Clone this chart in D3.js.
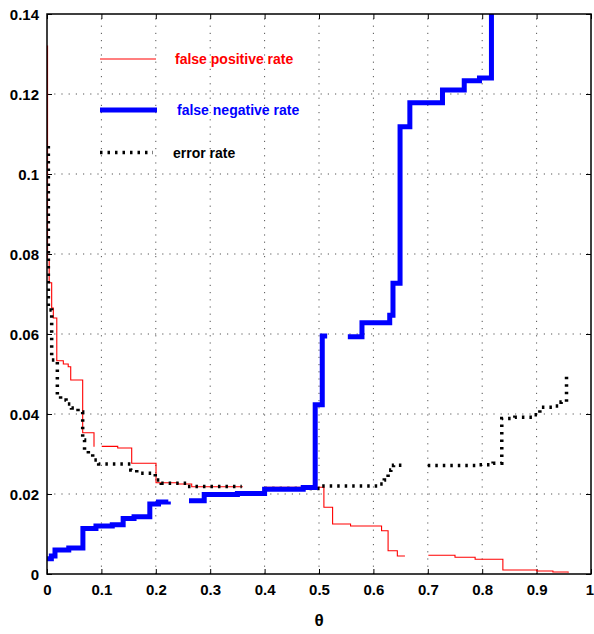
<!DOCTYPE html>
<html>
<head>
<meta charset="utf-8">
<script src="https://cdn.jsdelivr.net/npm/d3@7"></script>
<style>
  html, body { margin: 0; padding: 0; background: #fff; }
  svg text { font-family: "Liberation Sans", Arial, Helvetica, sans-serif; }
</style>
</head>
<body>
<svg id="chart" width="594" height="634"></svg>
<script>
// ---------------- data ----------------
const xTickValues = [0, 0.1, 0.2, 0.3, 0.4, 0.5, 0.6, 0.7, 0.8, 0.9, 1];
const xTickLabels = ["0", "0.1", "0.2", "0.3", "0.4", "0.5", "0.6", "0.7", "0.8", "0.9", "1"];
const yTickValues = [0, 0.02, 0.04, 0.06, 0.08, 0.1, 0.12, 0.14];
const yTickLabels = ["0", "0.02", "0.04", "0.06", "0.08", "0.1", "0.12", "0.14"];
const xLabel = "θ";
const seriesNames = ["false positive rate", "false negative rate", "error rate"];

// step points [theta, rate]; null = gap
const falsePositive = [
  [0, 0.132], [0.001, 0.0785], [0.004, 0.0728], [0.0086, 0.0665], [0.0116, 0.064],
  [0.018, 0.0533], [0.030, 0.0525], [0.039, 0.0518], [0.0436, 0.0485], [0.0656, 0.0353],
  [0.0864, 0.0318],
  null,
  [0.1006, 0.0319], [0.13, 0.0315], [0.1557, 0.0277], [0.2004, 0.0228], [0.241, 0.0225],
  [0.266, 0.0218], [0.36, 0.0218],
  null,
  [0.40, 0.0217], [0.509, 0.0167], [0.525, 0.0125], [0.558, 0.012], [0.615, 0.0108],
  [0.627, 0.0058], [0.644, 0.0045], [0.658, 0.0045],
  null,
  [0.701, 0.0047], [0.75, 0.0042], [0.787, 0.0037], [0.838, 0.001], [0.9, 0.00075],
  [0.93, 0.0005], [0.958, 0.0003]
];

const falseNegative = [
  [0, 0.0038], [0.008, 0.0045], [0.0147, 0.006], [0.04, 0.0065], [0.066, 0.0114],
  [0.09, 0.012], [0.12, 0.0123], [0.140, 0.0139], [0.16, 0.0143], [0.189, 0.0175],
  [0.205, 0.018], [0.223, 0.0181],
  null,
  [0.261, 0.0183], [0.289, 0.0199], [0.35, 0.0201], [0.40, 0.0212], [0.471, 0.0216],
  [0.493, 0.0423], [0.506, 0.0595], [0.515, 0.0595],
  null,
  [0.553, 0.0593], [0.579, 0.0628], [0.630, 0.0647], [0.636, 0.0727], [0.649, 0.1118],
  [0.667, 0.1178], [0.727, 0.121], [0.767, 0.1233], [0.795, 0.124], [0.817, 0.15]
];

const errorRate = [
  [0.0025, 0.107], [0.0025, 0.066], [0.0086, 0.0535], [0.019, 0.0448], [0.025, 0.0435],
  [0.035, 0.0425], [0.045, 0.0415], [0.057, 0.0405], [0.0656, 0.0335], [0.069, 0.031],
  [0.076, 0.030], [0.084, 0.0285], [0.095, 0.0275], [0.154, 0.026], [0.165, 0.0252],
  [0.199, 0.0235], [0.21, 0.0227], [0.257, 0.0219], [0.358, 0.0219],
  null,
  [0.40, 0.0214], [0.502, 0.022], [0.612, 0.0225], [0.62, 0.0235], [0.627, 0.025],
  [0.632, 0.026], [0.637, 0.0272], [0.658, 0.0272],
  null,
  [0.70, 0.0271], [0.79, 0.0273], [0.82, 0.0277], [0.836, 0.0389], [0.86, 0.0392],
  [0.894, 0.0398], [0.906, 0.0417], [0.934, 0.042], [0.945, 0.043], [0.955, 0.0439],
  [0.955, 0.0498]
];

// ---------------- layout ----------------
const svg = d3.select("#chart");
const m = { left: 47, top: 14, right: 3, bottom: 60 };
const W = 594, H = 634;
const x = d3.scaleLinear().domain([0, 1]).range([m.left, W - m.right]);
const y = d3.scaleLinear().domain([0, 0.14]).range([H - m.bottom, m.top]);

svg.append("defs").append("clipPath").attr("id", "clip")
  .append("rect")
  .attr("x", x(0)).attr("y", y(0.14))
  .attr("width", x(1) - x(0)).attr("height", y(0) - y(0.14));

// grid
const grid = svg.append("g");
grid.selectAll("line.gx").data(xTickValues.slice(1, -1)).join("line")
  .attr("x1", d => x(d)).attr("x2", d => x(d))
  .attr("y1", y(0)).attr("y2", y(0.14))
  .attr("stroke", "#555").attr("stroke-width", 1)
  .attr("stroke-dasharray", "1.2,6");
grid.selectAll("line.gy").data(yTickValues.slice(1, -1)).join("line")
  .attr("y1", d => y(d)).attr("y2", d => y(d))
  .attr("x1", x(0)).attr("x2", x(1))
  .attr("stroke", "#555").attr("stroke-width", 1)
  .attr("stroke-dasharray", "1.2,6");

// axes (ticks inward)
const tickFont = g => g.selectAll("text")
  .attr("font-size", 15).attr("font-weight", "bold").attr("fill", "#000");

svg.append("g").attr("transform", `translate(0,${y(0)})`)
  .call(d3.axisBottom(x).tickValues(xTickValues).tickFormat((d, i) => xTickLabels[i])
    .tickSizeInner(-5).tickSizeOuter(0).tickPadding(10))
  .call(g => g.select(".domain").remove())
  .call(tickFont)
  .call(g => g.selectAll("text").filter(d => d === 1).attr("dx", "-1.5"));

svg.append("g").attr("transform", `translate(${x(0)},0)`)
  .call(d3.axisLeft(y).tickValues(yTickValues).tickFormat((d, i) => yTickLabels[i])
    .tickSizeInner(-5).tickSizeOuter(0).tickPadding(8))
  .call(g => g.select(".domain").remove())
  .call(tickFont)
  .call(g => g.selectAll("text").attr("dy", "0.36em"));

svg.append("g").attr("transform", `translate(0,${y(0.14)})`)
  .call(d3.axisTop(x).tickValues(xTickValues).tickFormat("").tickSizeInner(-5).tickSizeOuter(0))
  .call(g => g.select(".domain").remove());

svg.append("g").attr("transform", `translate(${x(1)},0)`)
  .call(d3.axisRight(y).tickValues(yTickValues).tickFormat("").tickSizeInner(-5).tickSizeOuter(0))
  .call(g => g.select(".domain").remove());

// series
const line = d3.line()
  .defined(d => d !== null)
  .x(d => x(d[0])).y(d => y(d[1]))
  .curve(d3.curveStepAfter);

const plot = svg.append("g").attr("clip-path", "url(#clip)");

plot.append("path").datum(falsePositive)
  .attr("d", line).attr("fill", "none")
  .attr("stroke", "#ff0000").attr("stroke-width", 1.1);

plot.append("path").datum(errorRate)
  .attr("d", line).attr("fill", "none")
  .attr("stroke", "#000").attr("stroke-width", 3.5)
  .attr("stroke-dasharray", "2.5,5");

plot.append("path").datum(falseNegative)
  .attr("d", line).attr("fill", "none")
  .attr("stroke", "#0000ff").attr("stroke-width", 5)
  .attr("stroke-linejoin", "miter");

// border
svg.append("rect")
  .attr("x", x(0)).attr("y", y(0.14))
  .attr("width", x(1) - x(0)).attr("height", y(0) - y(0.14))
  .attr("fill", "none").attr("stroke", "#000").attr("stroke-width", 1.5);

// x label
svg.append("text")
  .attr("x", x(0.5)).attr("y", 626)
  .attr("text-anchor", "middle")
  .attr("font-size", 17).attr("font-weight", "bold")
  .text(xLabel);

// legend
const legend = [
  { name: seriesNames[0], color: "#ff0000", width: 1.1, dash: null, y: 59, x2: 156, tx: 175 },
  { name: seriesNames[1], color: "#0000ff", width: 5, dash: null, y: 110, x2: 157, tx: 177 },
  { name: seriesNames[2], color: "#000", width: 3.5, dash: "2.5,5", y: 152.5, x2: 153, tx: 173 }
];
const lg = svg.append("g");
legend.forEach(l => {
  lg.append("line")
    .attr("x1", 100).attr("x2", l.x2).attr("y1", l.y).attr("y2", l.y)
    .attr("stroke", l.color).attr("stroke-width", l.width)
    .attr("stroke-dasharray", l.dash);
  lg.append("text")
    .attr("x", l.tx).attr("y", l.y).attr("dy", "0.36em")
    .attr("font-size", 14).attr("font-weight", "bold")
    .attr("fill", l.color)
    .text(l.name);
});
</script>
</body>
</html>
